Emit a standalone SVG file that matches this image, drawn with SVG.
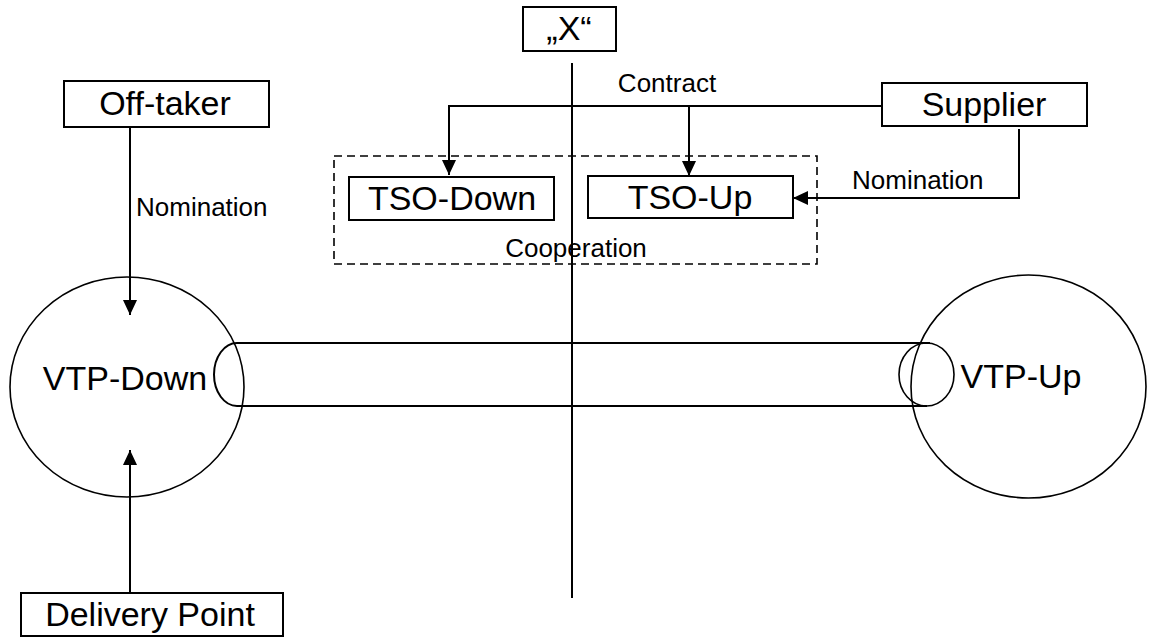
<svg xmlns="http://www.w3.org/2000/svg" width="1154" height="637" viewBox="0 0 1154 637">
<defs>
<marker id="arr" markerUnits="userSpaceOnUse" markerWidth="16" markerHeight="14" refX="15" refY="7" orient="auto">
<path d="M0,0 L15,7 L0,14 z" fill="#000"/>
</marker>
<style>
.box{fill:#fff;stroke:#000;stroke-width:2}
.big{font-family:"Liberation Sans",Arial,sans-serif;font-size:34px;fill:#000;text-anchor:middle}
.small{font-family:"Liberation Sans",Arial,sans-serif;font-size:26px;fill:#000}
.ln{fill:none;stroke:#000;stroke-width:2}
.thin{fill:none;stroke:#000;stroke-width:1.6}
</style>
</defs>
<rect width="1154" height="637" fill="#fff"/>
<g id="cooperation">
<rect x="334" y="156" width="483" height="108" fill="none" stroke="#000" stroke-width="1.6" stroke-dasharray="8,5"/>
<text class="small" x="576" y="257" text-anchor="middle">Cooperation</text>
</g>
<g id="border-line">
<line x1="572" y1="63" x2="572" y2="598" class="ln"/>
</g>
<g id="x-node">
<rect class="box" x="523" y="7" width="93" height="44"/>
<text class="big" x="569" y="40">„X“</text>
</g>
<g id="off-taker">
<rect class="box" x="64" y="81" width="205" height="46"/>
<text class="big" x="165" y="115">Off-taker</text>
</g>
<g id="supplier">
<rect class="box" x="882" y="83" width="205" height="43"/>
<text class="big" x="984" y="116">Supplier</text>
</g>
<g id="tso-down">
<rect class="box" x="349" y="177" width="205" height="43"/>
<text class="big" x="452" y="210">TSO-Down</text>
</g>
<g id="tso-up">
<rect class="box" x="588" y="176" width="205" height="42"/>
<text class="big" x="690" y="209">TSO-Up</text>
</g>
<g id="vtp-down">
<ellipse cx="127" cy="387" rx="117" ry="110" class="thin"/>
<text class="big" x="125" y="390">VTP-Down</text>
</g>
<g id="vtp-up">
<ellipse cx="1028.5" cy="386.5" rx="117.5" ry="111.5" class="thin"/>
<text class="big" x="1021" y="388">VTP-Up</text>
</g>
<g id="pipeline">
<path d="M930,343 H237 A23,31.5 0 0 0 237,406 H927" class="ln"/>
<ellipse cx="926.5" cy="374.5" rx="27.5" ry="31.5" class="thin"/>
</g>
<g id="delivery-point">
<rect class="box" x="21" y="593" width="262" height="43"/>
<text class="big" x="150" y="626">Delivery Point</text>
</g>
<g id="connectors">
<line x1="130" y1="127" x2="130" y2="315" class="ln" marker-end="url(#arr)"/>
<text class="small" x="136" y="216">Nomination</text>
<line x1="130" y1="593" x2="130" y2="450" class="ln" marker-end="url(#arr)"/>
<path d="M882,106 H449 V175" class="ln" marker-end="url(#arr)"/>
<path d="M689,106 V176" class="ln" marker-end="url(#arr)"/>
<text class="small" x="667" y="92" text-anchor="middle">Contract</text>
<path d="M1019,129 V198 H793" class="ln" marker-end="url(#arr)"/>
<text class="small" x="852" y="189">Nomination</text>
</g>
</svg>
